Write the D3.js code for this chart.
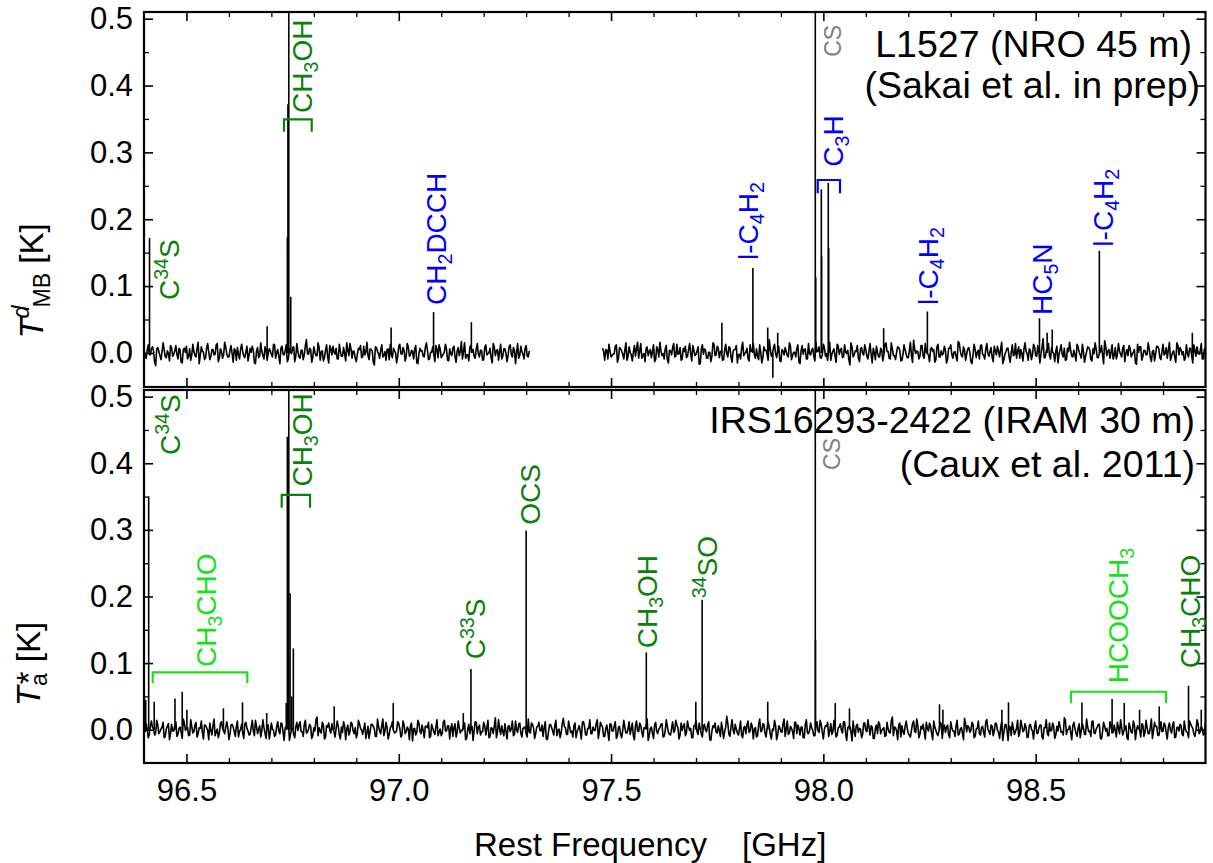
<!DOCTYPE html>
<html><head><meta charset="utf-8">
<script src="https://cdn.jsdelivr.net/npm/d3@7"></script>
<style>
body{margin:0;background:#fff;}
svg{display:block;font-family:"Liberation Sans",Arial,Helvetica,sans-serif;}
</style></head><body>
<svg id="chart" width="1213" height="863"></svg>
<script>
// ---------------- DATA ----------------
const xDomain = [96.40, 98.90];
const xTicks = [96.5, 97.0, 97.5, 98.0, 98.5];
const xMinorTicks = [96.6,96.7,96.8,96.9,97.1,97.2,97.3,97.4,97.6,97.7,97.8,97.9,98.1,98.2,98.3,98.4,98.6,98.7,98.8];
const yTicks = [0.0, 0.1, 0.2, 0.3, 0.4, 0.5];
const yMinorTicks = [0.05, 0.15, 0.25, 0.35, 0.45];
const topYDomain = [-0.051, 0.51];
const botYDomain = [-0.05, 0.51];

// channel grid (GHz): even channels listed low->high frequency, odd channels listed high->low frequency
const chanStep = 0.0025;
const topSegStart = [96.400, 97.480];
const botSegStart = [96.400];

// baseline noise, mK — even channels
const topNoiseA_even = [5,-8,12,-3,9,-14,6,2,-10,15,-6,3,-12,8,-2,11,-9,4,-15,7,
10,-5,-11,13,-4,7,-16,9,1,-7,14,-10,5,-3,12,-13,6,-8,16,-2,
-6,11,-14,4,8,-9,13,-5,2,-12,7,10,-15,3,-7,15,-4,9,-11,6,
-2,13,-8,5,-16,10,-3,12,-9,1,8,-13,14,-6,4,-10,11,-1,7,-14,
9,-4,15,-11,3,-7,12,-15,6,10,-2,-9,13,-5,8,-12,4,14,-8,2,
-13,7,11,-6,-3,16,-10,5,-14,9,2,-8,12,-4,-11,6,13,-7,3,-15,
10,-1,8,-12,14,-5,4,-9,11,-16,7,3,-6,15,-10,1,9,-13,5,12,
-7,-2,13,-11,6,-4,10,-14,8,2,-9,15,-3,-12,11,5,-8,14,-6,4,
-10,12,-1,7,-15,9,3,-11,13,-5,6,-13,10,-2,8,-16,14,-4,2,-9,
11,-6];
const topNoiseB_even = [7,-11,4,13,-6,-2,10,-14,8,3,-9,15,-5,1,-12,11,6,-8,14,-3,
-13,9,2,-7,12,-10,5,16,-4,-9,11,-15,3,8,-6,13,-1,-11,7,10,
-5,14,-12,4,-2,9,-16,12,6,-8,1,-13,15,-4,10,-7,3,-10,13,-6,
8,-14,5,11,-3,-9,16,-1,7,-12,2,14,-8,-5,12,-15,9,4,-11,6,
-2,13,-7,10,-13,3,8,-4,15,-10,1,-6,12,-16,11,5,-9,14,-3,7,
-12,2,9,-8,13,-5,-11,16,-2,6,-14,10,4,-7,12,-1,-10,15,-6,3,
11,-13,8,-3,5,-9,14,-15,1,10,-6,7,-12,13,2,-8,15,-4,-10,9,
4,-11,12,-2,-7,16,-14,6,3,-9,11,-5,14,-1,-13,8,5,-10,13,-6,
-3,10,-15,7,12,-8,2,-12,15,-4,9,-11,6,1,-16,13,-7,4,11,-2,
-9,14,-5,8,-13,3,10,-6,16,-11,2,7,-14,12,-3,-8,9,5,-12,15,
-1,6,-10,13,-4,11,-15,8,-7,3,14,-9,1,-13,10,-2,12,-6,-11,7,
16,-5,4,-12,9,-3,13,-14,2,8,-10,6,15,-7,-1,11,-16,10,3,-8,
12,-4,-9,14,-2,7,-13,5,11,-6,1,-15,13,9,-11,4,-3,15,-7,2,
-12,10,6,-10,13,-1,-8,16,-5,3,-14,11,8,-3,-11,12,-6,7,-15,4,
9,-2,14,-9,6];
const botNoise_even = [-4,9,-12,6,3,-8,14,-6,1,11,-10,5,-15,8,-2,12,-7,4,-13,10,
2,-9,15,-5,7,-11,3,13,-14,6,-1,10,-8,16,-4,-12,9,2,-6,12,
-15,7,4,-10,13,-3,8,-13,11,-2,-7,14,-9,5,1,-11,15,-5,6,-14,
10,-1,-8,12,-6,9,-16,4,13,-7,2,-12,11,7,-3,-10,14,-4,8,-13,
3,15,-9,-2,11,-14,6,10,-5,1,-11,13,-8,4,12,-15,7,-3,9,-6,
-12,14,2,-7,10,-4,-13,8,5,-10,16,-2,6,-9,11,-14,3,12,-5,-1,
9,-11,13,-6,4,-15,10,1,-8,14,-3,7,-12,5,11,-10,2,-7,15,-4,
-9,12,-2,6,-14,9,3,-11,13,-5,-1,10,-13,8,4,-16,12,-6,7,-3,
11,-8,14,-10,2,5,-12,15,-7,-3,9,-14,6,1,-9,13,-4,10,-11,3,
-6,16,-5,8,-13,4,11,-2,-10,12,-15,7,3,-8,14,-1,-12,9,5,-7,
13,-4,-11,10,-3,6,-14,12,-8,2,15,-6,-1,9,-13,11,4,-10,7,-16,
8,-2,12,-9,5,-12,14,-5,1,-7,10,-15,13,-3,6,-11,2,16,-8,4,
-13,11,-6,3,9,-10,15,-4,-8,12,-2,7,-14,10,5,-9,13,-1,-12,6,
14,-7,2,-11,8,-3,12,-16,6,10,-5,-1,11,-13,4,9,-10,15,-6,1,
-8,13,-12,5,7,-4,10,-14,3,-9,16,-2,8,-11,12,-7,1,14,-15,6,
-3,9,-10,13,-5,2,-13,11,7,-8,4,-12,15,-6,10,-1,-9,12,-4,8,
-14,6,11,-2,-7,14,-11,3,9,-5,12,-16,5,-3,13,-10,8,2,-12,10,
-1,15,-8,4,-13,7,12,-6,1,-10,11,-4,14,-9,3,-15,10,6,-7,13,
-5,-11,9,-3,16,-12,5,8,-14,2,10,-6,13,-1,-9,11,-13,7,4,-8,
12,-2,-10,14,-7,3,-15,9,6,-4,11,-12,1,13,-8,5,-11,15,-3,7,
-9,10,-1,-13,12,-5,8,-16,4,11,-7,2,-10,14,-3,9,-12,6,1,-14,
13,-6,7,-11,3,15,-9,-2,10,-13,5,12,-4,-8,14,-1,6,-15,11,-5,
2,-12,9,-7,16,-3,-10,13,-6,4,8,-14,11,-2,-9,12,-5,7,-11,3,
15,-8,1,-12,10,-4,13,-15,6,-1,9,-10,14,-6,3,-13,11,5,-9,12,
-2,7,-14,10,-5,12,-11,4,8,-7,13,-3,-12,9,2,-10,15,-6,4,-8,
11];
// baseline noise, mK — odd channels (listed from the high-frequency end)
const topNoiseA_odd = [3,-5,7,-2,10,-8,1,4,-6,12,-3,-1,6,-9,2,5,-4,14,-7,0,
-3,8,-11,4,-2,6,-5,1,9,-3,-8,2,17,-4,3,-6,7,-1,-12,5,
2,-4,6,-7,11,-2,1,-9,4,8,-5,3,-1,-15,6,2,-3,9,-6,4,
-2,13,-5,0,7,-3,-10,5,2,-6,4,-1,8,-18,3,6,-4,1,10,-7,
5,-2,-8,3,6,-4,15,-1,-5,2,-9,7,1,-3,11,-6,4,-12,2,8,
-4,1,-7,5,-2,20,-3,4,-8,2,-5,9,-1,6,-13,3,-2,7,-5,1,
12,-6,3,-1,5,-9,2,-4,8,-16,4,1,-3,10,-7,2,5,-2,-11,6,
-1,4,-6,9,-3,2,-8,14,-2,5,-5,1,7,-10,3,-4,16,-6,2,-3,
6,-9,1,4,-14,7,-2,3,-5,11,-1,-7,5,2,-4,8,-19,3,6,-2,
4,-6];
const topNoiseB_odd = [-2,6,-9,3,1,-5,12,-4,7,-1,-8,2,5,-3,15,-6,1,-11,4,8,
-3,2,-7,10,-1,4,-13,6,-2,3,-5,9,1,-17,5,-2,7,-4,0,11,
-6,3,-2,8,-9,1,5,-4,18,-3,2,-7,6,-1,-12,4,9,-5,2,-8,
1,13,-3,-6,4,2,-10,7,-2,5,-15,3,-1,8,-4,6,-7,21,-2,1,
-5,9,-3,4,-11,2,6,-1,-8,3,14,-4,1,-6,7,-2,-16,5,3,-3,
10,-7,2,-1,6,-4,12,-9,1,5,-3,-13,8,-2,4,-6,3,17,-5,1,
-2,7,-10,4,-1,3,-6,9,-14,2,6,-3,1,-8,11,-5,2,-1,19,-4,
3,-7,5,-2,-12,8,1,-4,6,-9,2,15,-3,4,-6,1,-10,7,-2,3,
-5,12,-1,6,-8,2,-3,9,-18,4,1,-6,7,-2,13,-4,3,-11,5,-1,
8,-3,-7,2,16,-5,4,-1,-9,6,-2,3,-14,7,1,-4,10,-6,2,-3,
5,-12,3,-1,8,-5,20,-2,4,-7,1,-10,6,-3,2,12,-8,1,-4,7,
-2,-15,5,3,-6,9,-1,4,-11,2,7,-3,13,-5,1,-8,4,-2,6,-17,
3,-4,11,-1,5,-7,2,-9,8,-2,-5,14,-3,4,-10,6,-1,3,-6,9,
-13,2,5,-4,7,-1,-8,3,16,-5,1,-3,9,-11,4,-2,6,-7,12,-1,
-4,3,-9,5,2];
const botNoise_odd = [4,-7,2,-3,9,-1,-6,5,13,-4,1,-9,6,-2,3,-12,7,-1,4,-5,
10,-3,1,-8,5,-2,16,-6,3,-4,7,-11,2,-1,8,-5,4,-15,6,-2,
3,-6,11,-1,-4,7,-9,2,5,-3,-13,8,1,-5,12,-2,4,-7,3,-1,
9,-10,2,6,-4,1,-7,18,-3,5,-2,-8,4,-1,10,-6,3,-14,7,2,
-5,4,-2,8,-11,3,-1,6,-5,14,-3,2,-9,5,-1,7,-16,3,-4,9,
-2,5,-7,1,12,-4,3,-6,2,-10,8,-1,4,-3,17,-5,1,-8,6,-2,
3,-12,7,-4,2,9,-1,-6,4,-15,5,-2,11,-3,1,-7,6,-4,13,-1,
-8,2,5,-3,-11,7,-2,4,19,-5,1,-9,3,-1,8,-6,2,-13,6,4,
-3,10,-7,1,-4,6,-2,-17,5,3,-6,12,-1,4,-8,2,-3,9,-10,5,
1,-4,14,-2,6,-9,3,-1,-5,8,-12,4,2,-6,11,-3,5,-7,1,16,
-4,3,-8,6,-1,-14,4,2,-5,9,-3,7,-11,1,5,-2,13,-6,3,-9,
2,-5,8,-1,4,-7,20,-3,1,-10,6,-4,3,-2,-15,7,-1,5,-6,10,
-3,6,-12,2,4,-5,9,-1,-8,3,14,-4,2,-7,5,-2,-11,8,1,-3,
7,-6,2,-16,5,3,-4,10,-2,6,-9,1,12,-5,3,-1,-7,4,-13,6,
-2,9,-4,1,-10,7,-3,15,-1,4,-6,2,-8,5,11,-3,1,-12,6,-2,
4,-7,3,17,-5,1,-9,6,-2,8,-4,-14,3,7,-1,5,-6,2,10,-3,
-11,4,2,-5,8,-1,-7,13,-3,5,-2,-9,6,1,-4,18,-6,3,-12,2,
6,-3,-8,4,11,-2,5,-6,1,-15,7,-1,3,-4,9,-10,2,6,-2,14,
-5,1,-9,4,-3,8,-12,3,5,-1,-6,10,-4,2,-17,6,1,-3,7,-8,
2,12,-4,-1,5,-7,3,-2,16,-6,4,-10,1,8,-3,5,-13,2,-1,9,
-6,3,-2,11,-8,1,6,-4,-14,5,2,-3,9,-1,4,-11,7,-5,3,19,
-2,-9,5,1,-5,8,-3,12,-1,4,-7,2,-16,6,3,-4,10,-2,5,-10,
1,-4,7,-13,3,-1,6,-6,14,-2,4,-8,2,9,-5,1,-11,5,-3,8,
-7,2,4,-2,12,-5,1,-9,6,-1,-15,3,7,-4,2,-6,11,-3,5,-8,
3,-1,16,-4,2,-10,6,-2,-6,9,1,-12,4,-3,7,-5,2,13,-7,1,
-3];

// spectral lines: frequency (GHz) and peak (K)
const topLineFreq = [96.413,96.690,96.7376,96.739,96.741,96.7456,96.982,97.082,97.171,97.761,97.834,97.869,97.881,97.8925,97.981,97.982,97.9952,97.9959,98.0116,98.0125,98.142,98.245,98.509,98.527,98.539,98.650,98.869];
const topLinePeak = [0.172,0.040,0.173,0.372,0.95,0.084,0.038,0.061,0.046,0.045,0.127,0.038,-0.037,0.030,0.95,0.113,0.245,0.144,0.254,0.157,0.037,0.062,0.052,0.030,0.035,0.153,0.030];
const botLineFreq = [96.404,96.411,96.424,96.473,96.490,96.501,96.587,96.632,96.689,96.735,96.7376,96.741,96.744,96.748,96.7517,96.848,96.987,97.152,97.170,97.300,97.583,97.6996,97.7145,97.869,97.981,97.9815,98.028,98.0615,98.2735,98.2815,98.4205,98.436,98.609,98.680,98.7086,98.7447,98.791,98.860,98.890];
const botLinePeak = [0.045,0.35,0.042,0.047,0.057,0.030,0.032,0.041,0.025,0.040,0.44,0.95,0.205,0.050,0.122,0.035,0.040,0.025,0.091,0.299,0.116,0.042,0.195,0.042,0.95,0.135,0.040,0.032,0.038,0.030,0.030,0.041,0.041,0.046,0.040,0.030,0.035,0.066,0.030];

// molecule labels (text, anchor frequency, anchor intensity, colour group)
const topLabelText = ["C^34S","CH_3OH","CH_2DCCH","l-C_4H_2","C_3H","CS","l-C_4H_2","HC_5N","l-C_4H_2"];
const topLabelFreq = [96.4824,96.7957,97.1113,97.8455,98.0463,98.0427,98.2700,98.5385,98.6820];
const topLabelVal  = [0.079,0.359,0.0717,0.139,0.2786,0.443,0.0717,0.0567,0.159];
const topLabelGroup = ["dg","dg","blue","blue","blue","gray","blue","blue","blue"];
const botLabelText = ["C^34S","CH_3OH","CH_3CHO","C^33S","OCS","CH_3OH","^34SO","CS","HCOOCH_3","CH_3CHO"];
const botLabelFreq = [96.4848,96.7957,96.5696,97.2030,97.3326,97.6075,97.7488,98.0392,98.7175,98.8870];
const botLabelVal  = [0.4124,0.365,0.0941,0.1057,0.3076,0.1222,0.1973,0.39,0.0697,0.0922];
const botLabelGroup = ["dg","dg","lg","dg","dg","dg","dg","gray","lg","dg"];

// brackets: [freq1, freq2, bar intensity, leg intensity, group]
const topBrackets = [[96.7297,96.795,0.3495,0.331,"dg"],[97.9867,98.0392,0.2587,0.239,"blue"]];
const botBrackets = [[96.7243,96.791,0.3524,0.3333,"dg"],[96.4205,96.6433,0.0862,0.0697,"lg"],[98.5832,98.807,0.057,0.0396,"lg"]];

const topTitle = ["L1527 (NRO 45 m)","(Sakai et al. in prep)"];
const botTitle = ["IRS16293-2422 (IRAM 30 m)","(Caux et al. 2011)"];

// ---------------- DRAWING ----------------
const colors = {dg:"#0b800b", lg:"#19e019", blue:"#0000ff", gray:"#808080"};
const svg = d3.select("#chart");
const L = 144, R = 1205.5;
const x = d3.scaleLinear().domain(xDomain).range([L, R]);

// assemble a channel series from the even list and the odd list (odd list stored high->low)
function channels(even, odd){
  const out = [];
  for(let i = 0; i < even.length; i++){
    out.push(even[i]);
    if(i < odd.length) out.push(odd[odd.length - 1 - i]);
  }
  return out;
}

function richText(sel, str, size){
  const re = /([_^])(\d+)|([^_^]+)/g;
  let m, shift = 0;
  while((m = re.exec(str)) !== null){
    const ts = sel.append("tspan");
    if(m[3] !== undefined){
      ts.text(m[3]).attr("dy", -shift); shift = 0;
    } else if(m[1] === "_"){
      const d = 0.22*size;
      ts.text(m[2]).attr("font-size", size*0.7).attr("dy", d - shift); shift = d;
    } else {
      const d = -0.38*size;
      ts.text(m[2]).attr("font-size", size*0.7).attr("dy", d - shift); shift = d;
    }
  }
}

function panel(id, top, bottom, yDom, segStarts, noiseSegs, lf, lp, lt, lfq, lv, lg, brackets, title, titlePos, showXLabels){
  const y = d3.scaleLinear().domain(yDom).range([bottom, top]);
  const g = svg.append("g");
  g.append("clipPath").attr("id","clip"+id).append("rect")
    .attr("x",L).attr("y",top).attr("width",R-L).attr("height",bottom-top);
  const plot = g.append("g").attr("clip-path",`url(#clip${id})`);

  // noise baseline
  const line = d3.line().x(d=>x(d[0])).y(d=>y(d[1]));
  noiseSegs.forEach((seg,k)=>{
    const pts = seg.map((v,i)=>[segStarts[k] + i*chanStep, v/1000]);
    plot.append("path").attr("d", line(pts)).attr("fill","none")
      .attr("stroke","#000").attr("stroke-width",1.6).attr("stroke-linejoin","round");
  });
  // spectral lines
  plot.selectAll("line.sp").data(lf.map((f,i)=>[f,lp[i]])).join("line")
    .attr("x1",d=>x(d[0])).attr("x2",d=>x(d[0]))
    .attr("y1",y(0)).attr("y2",d=>y(d[1]))
    .attr("stroke","#000").attr("stroke-width",1.6);

  // axes
  const ax = [
    [d3.axisBottom(x), `translate(0,${bottom})`, xTicks, xMinorTicks],
    [d3.axisTop(x), `translate(0,${top})`, xTicks, xMinorTicks],
    [d3.axisLeft(y), `translate(${L},0)`, yTicks, yMinorTicks],
    [d3.axisRight(y), `translate(${R},0)`, yTicks, yMinorTicks]
  ];
  ax.forEach(([a,tr,maj,min],k)=>{
    const ga = g.append("g").attr("transform",tr)
      .call(a.tickValues(maj).tickSize(-9).tickSizeOuter(0).tickFormat(""));
    ga.select(".domain").remove();
    ga.selectAll("line").attr("stroke","#000").attr("stroke-width",1.6);
    const gm = g.append("g").attr("transform",tr)
      .call(a.tickValues(min).tickSize(-5).tickSizeOuter(0).tickFormat(""));
    gm.select(".domain").remove();
    gm.selectAll("line").attr("stroke","#000").attr("stroke-width",1.3);
  });
  // y tick labels
  const gy = g.append("g").attr("transform",`translate(${L},0)`)
    .call(d3.axisLeft(y).tickValues(yTicks).tickSize(0).tickPadding(11).tickFormat(d3.format(".1f")));
  gy.select(".domain").remove();
  gy.selectAll("text").attr("font-size",31).attr("font-family","Liberation Sans, Arial, sans-serif").attr("fill","#000");
  if(showXLabels){
    const gx = g.append("g").attr("transform",`translate(0,${bottom})`)
      .call(d3.axisBottom(x).tickValues(xTicks).tickSize(0).tickPadding(16).tickFormat(d3.format(".1f")));
    gx.select(".domain").remove();
    gx.selectAll("text").attr("font-size",31).attr("font-family","Liberation Sans, Arial, sans-serif").attr("fill","#000");
  }
  // frame
  g.append("rect").attr("x",L).attr("y",top).attr("width",R-L).attr("height",bottom-top)
    .attr("fill","none").attr("stroke","#000").attr("stroke-width",2.2);

  // brackets
  brackets.forEach(b=>{
    const x1=x(b[0]), x2=x(b[1]), yb=y(b[2]), yl=y(b[3]);
    g.append("path").attr("d",`M${x1},${yl}V${yb}H${x2}V${yl}`)
      .attr("fill","none").attr("stroke",colors[b[4]]).attr("stroke-width",2.2);
  });
  // labels
  lt.forEach((t,i)=>{
    const size = lg[i]==="gray" ? 23 : 28;
    const px = x(lfq[i]), py = y(lv[i]);
    const te = g.append("text").attr("transform",`translate(${px},${py}) rotate(-90)`)
      .attr("fill",colors[lg[i]]).attr("font-size",size);
    richText(te, t, size);
  });
  // titles
  g.append("text").attr("x",titlePos[0][0]).attr("y",titlePos[0][1]).attr("text-anchor","end")
    .attr("font-size",37.5).text(title[0]);
  g.append("text").attr("x",titlePos[1][0]).attr("y",titlePos[1][1]).attr("text-anchor","end")
    .attr("font-size",37.5).text(title[1]);
  return y;
}

panel("t", 12, 387, topYDomain, topSegStart,
  [channels(topNoiseA_even, topNoiseA_odd), channels(topNoiseB_even, topNoiseB_odd)],
  topLineFreq, topLinePeak,
  topLabelText, topLabelFreq, topLabelVal, topLabelGroup, topBrackets, topTitle,
  [[1192,57],[1200,98]], false);
panel("b", 390, 763, botYDomain, botSegStart, [channels(botNoise_even, botNoise_odd)],
  botLineFreq, botLinePeak,
  botLabelText, botLabelFreq, botLabelVal, botLabelGroup, botBrackets, botTitle,
  [[1195,433],[1195,477]], true);

// y-axis titles
const fs = 33;
const yl1 = svg.append("text").attr("transform","translate(43,281) rotate(-90)")
  .attr("text-anchor","middle").attr("font-size",fs);
yl1.append("tspan").attr("font-style","italic").text("T");
yl1.append("tspan").attr("font-style","italic").attr("font-size",fs*0.7).attr("dy",-0.42*fs).text("d");
yl1.append("tspan").attr("font-size",fs*0.7).attr("dx",-2).attr("dy",0.64*fs).text("MB");
yl1.append("tspan").attr("dy",-0.22*fs).text(" [K]");

const yl2 = svg.append("text").attr("transform","translate(40,664) rotate(-90)")
  .attr("text-anchor","middle").attr("font-size",fs);
yl2.append("tspan").attr("font-style","italic").text("T");
yl2.append("tspan").attr("font-size",fs*0.7).attr("dy",0.22*fs).text("a");
yl2.append("tspan").attr("dx",-11).attr("dy",-0.22*fs).text("*");
yl2.append("tspan").text(" [K]");

// x-axis title
svg.append("text").attr("x",474).attr("y",856).attr("font-size",33).text("Rest Frequency");
svg.append("text").attr("x",742).attr("y",856).attr("font-size",33).text("[GHz]");
</script>
</body></html>
